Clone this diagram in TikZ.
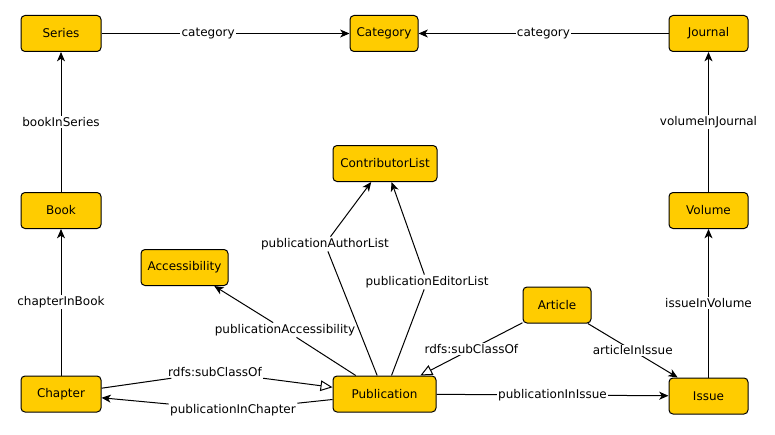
\documentclass[tikz,border=0pt]{standalone}
\usepackage{fontspec}
\setmainfont{DejaVu Sans}
\usetikzlibrary{arrows.meta}
\definecolor{cls}{HTML}{FFCC00}
\tikzset{
  cbox/.style={draw=black, fill=cls, rounded corners=3pt, line width=0.75pt,
    minimum height=27pt, inner sep=2pt, font=\fontsize{9}{10}\selectfont},
  lbl/.style={fill=white, inner sep=1pt, font=\fontsize{9}{10}\selectfont},
  edge/.style={draw=black, line width=0.75pt},
  arr/.style={edge, -{Stealth[length=7pt,width=6pt,inset=2pt]}},
  sub/.style={edge, -{Triangle[open,length=9pt,width=8pt,fill=white]}}
}
\begin{document}
\begin{tikzpicture}[x=0.75pt,y=-0.75pt]
\useasboundingbox (0,0) rectangle (775,435);
% classes
\node[cbox, minimum width=60pt]    (series) at (61,33.5)    {Series};
\node[cbox, minimum width=51pt]    (cat)    at (384,33.5)   {Category};
\node[cbox, minimum width=59.25pt] (jour)   at (708.5,33.5) {Journal};
\node[cbox, minimum width=78pt]    (cl)     at (385,163.5)  {ContributorList};
\node[cbox, minimum width=60pt]    (book)   at (61,210.5)   {Book};
\node[cbox, minimum width=59.25pt] (vol)    at (708.5,210.5){Volume};
\node[cbox, minimum width=65.25pt] (acc)    at (184.5,267.5){Accessibility};
\node[cbox, minimum width=51pt]    (art)    at (557,305)    {Article};
\node[cbox, minimum width=60pt]    (chap)   at (61,394)     {Chapter};
\node[cbox, minimum width=77.25pt] (pub)    at (384.5,394)  {Publication};
\node[cbox, minimum width=59.25pt] (iss)    at (708.5,396)  {Issue};
% straight edges
\draw[arr] (series) -- node[lbl, pos=0.43] {category} (cat);
\draw[arr] (jour) -- node[lbl, pos=0.5] {category} (cat);
\draw[arr] (book) -- node[lbl] {bookInSeries} (series);
\draw[arr] (vol) -- node[lbl] {volumeInJournal} (jour);
\draw[arr] (chap) -- node[lbl] {chapterInBook} (book);
\draw[arr] (iss) -- node[lbl] {issueInVolume} (vol);
\draw[arr] (pub) -- node[lbl] {publicationInIssue} (iss);
\draw[arr] (art) -- node[lbl] {articleInIssue} (iss);
\draw[sub] (art) -- node[lbl] {rdfs:subClassOf} (pub);
% bent edges with label at waypoint
\node[lbl] (lauth) at (325,244) {publicationAuthorList};
\draw[edge] (pub) -- (lauth);
\draw[arr] (lauth) -- (cl);
\node[lbl] (led) at (427,282) {publicationEditorList};
\draw[edge] (pub) -- (led);
\draw[arr] (led) -- (cl);
\node[lbl] (lacc) at (285,330) {publicationAccessibility};
\draw[edge] (pub) -- (lacc);
\draw[arr] (lacc) -- (acc);
\node[lbl] (lsub) at (215,372) {rdfs:subClassOf};
\draw[edge] (chap) -- (lsub);
\draw[sub] (lsub) -- (pub);
\node[lbl] (lpic) at (233,410) {publicationInChapter};
\draw[edge] (pub) -- (lpic);
\draw[arr] (lpic) -- (chap);
\end{tikzpicture}
\end{document}
